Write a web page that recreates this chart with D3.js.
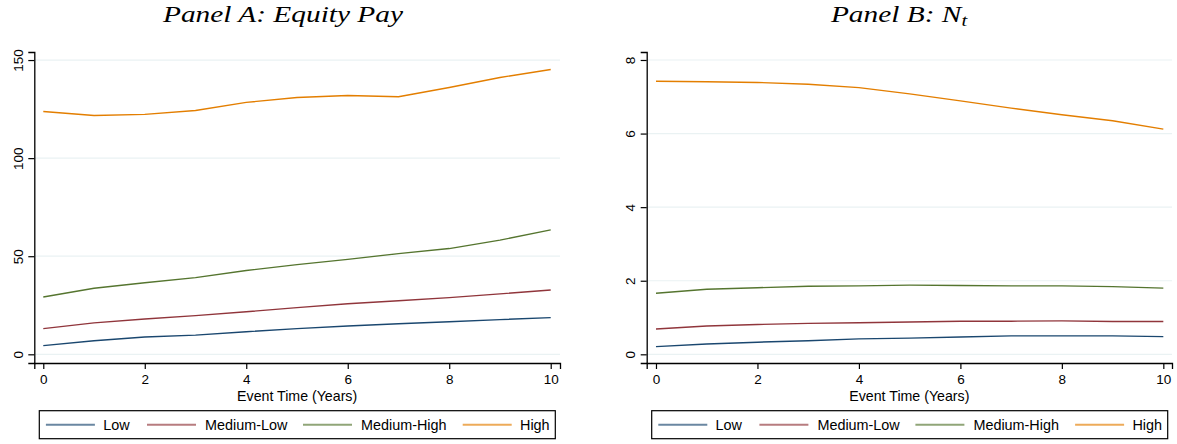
<!DOCTYPE html>
<html><head><meta charset="utf-8">
<script src="https://cdn.jsdelivr.net/npm/d3@7"></script>
<style>
html,body{margin:0;padding:0;background:#fff;}
svg{display:block;}
text{font-family:"Liberation Sans",Arial,sans-serif;fill:#000;}
.title{font-family:"Liberation Serif","Times New Roman",serif;font-style:italic;}
</style></head>
<body>
<svg id="chart" width="1177" height="444"></svg>
<script>
const years = [0,1,2,3,4,5,6,7,8,9,10];
const seriesNames = ["Low","Medium-Low","Medium-High","High"];
const seriesColors = ["#1a476f","#90353b","#55752f","#e37e00"];

// Panel A: Equity Pay
const equityLow = [4.4,6.9,8.8,9.8,11.5,13.1,14.4,15.6,16.6,17.7,18.7];
const equityMedLow = [13.1,16.0,18.0,19.7,21.7,23.8,25.8,27.3,28.9,30.8,32.8];
const equityMedHigh = [29.2,33.7,36.5,39.1,42.7,45.7,48.4,51.3,53.9,58.2,63.4];
const equityHigh = [123.8,121.7,122.3,124.3,128.4,130.9,131.9,131.3,136.0,141.1,145.2];
const equityTicks = [0,50,100,150];

// Panel B: N_t
const nLow = [0.21,0.28,0.33,0.37,0.42,0.44,0.47,0.50,0.50,0.50,0.48];
const nMedLow = [0.69,0.77,0.81,0.84,0.86,0.88,0.90,0.90,0.91,0.89,0.89];
const nMedHigh = [1.66,1.77,1.81,1.85,1.86,1.88,1.87,1.86,1.86,1.84,1.80];
const nHigh = [7.42,7.41,7.39,7.34,7.25,7.08,6.89,6.69,6.51,6.35,6.12];
const nTicks = [0,2,4,6,8];

const xTicks = [0,2,4,6,8,10];
const xTitle = "Event Time (Years)";

const svg = d3.select("#chart");

function panel(cfg){
  const g = svg.append("g");
  const x = d3.scaleLinear().domain(cfg.xDomain).range(cfg.xRange);
  const y = d3.scaleLinear().domain(cfg.yDomain).range(cfg.yRange);

  // gridlines
  g.append("g").selectAll("line").data(cfg.yTicks).join("line")
    .attr("x1", cfg.xRange[0]).attr("x2", cfg.xRange[1])
    .attr("y1", d=>y(d)).attr("y2", d=>y(d))
    .attr("stroke","#eaf2f3").attr("stroke-width",1.2);

  // lines
  const line = d3.line().x((d,i)=>x(years[i])).y(d=>y(d));
  cfg.series.forEach((s,k)=>{
    g.append("path").datum(s).attr("d",line)
      .attr("fill","none").attr("stroke",seriesColors[k]).attr("stroke-width",1.4)
      .attr("stroke-linejoin","round");
  });

  // y axis
  const ya = g.append("g").attr("transform",`translate(${cfg.xRange[0]},0)`)
    .call(d3.axisLeft(y).tickValues(cfg.yTicks).tickSizeOuter(0).tickSize(6).tickFormat(d3.format("d")));
  ya.select(".domain").attr("stroke","#000").attr("stroke-width",1.3);
  ya.selectAll(".tick line").attr("stroke","#000").attr("stroke-width",1.2);
  ya.selectAll(".tick text")
    .attr("font-family","Liberation Sans, Arial, sans-serif").attr("font-size",13.5)
    .attr("fill","#000")
    .attr("text-anchor","middle").attr("x",null).attr("dy",null)
    .attr("transform","translate(-11.6,0) rotate(-90)");

  // x axis
  const xa = g.append("g").attr("transform",`translate(0,${cfg.yRange[0]})`)
    .call(d3.axisBottom(x).tickValues(xTicks).tickSizeOuter(0).tickSize(6));
  xa.select(".domain").attr("stroke","#000").attr("stroke-width",1.3);
  xa.selectAll(".tick line").attr("stroke","#000").attr("stroke-width",1.2);
  xa.selectAll(".tick text")
    .attr("font-family","Liberation Sans, Arial, sans-serif").attr("font-size",13.5)
    .attr("fill","#000").attr("y",20.5).attr("dy",null);

  // x title
  g.append("text").attr("x",(cfg.xRange[0]+cfg.xRange[1])/2).attr("y",400.5)
    .attr("text-anchor","middle").attr("font-size",14.2).text(xTitle);

  // title
  const t = g.append("text").attr("class","title")
    .attr("transform",`translate(${cfg.titleX},21.5) scale(1.25,1)`)
    .attr("text-anchor","middle").attr("font-size",23.5);
  cfg.titleParts(t);

  // legend
  const lx = cfg.legendX;
  g.append("rect").attr("x",lx).attr("y",410.7).attr("width",516).attr("height",28)
    .attr("fill","#fff").attr("stroke","#000").attr("stroke-width",1.2);
  const itemOffsets = [[6.6,63.9],[107.7,165.7],[263.7,321.7],[423.4,480.7]];
  seriesNames.forEach((nm,k)=>{
    const [lo,to] = itemOffsets[k];
    g.append("line").attr("x1",lx+lo).attr("x2",lx+lo+49).attr("y1",424.7).attr("y2",424.7)
      .attr("stroke",seriesColors[k]).attr("stroke-width",2).attr("stroke-opacity",0.65);
    g.append("text").attr("x",lx+to).attr("y",429.8).attr("font-size",14.4).text(nm);
  });
}

panel({
  xDomain:[-0.177,10.183], xRange:[34.3,560],
  yDomain:[-4.43,154.1], yRange:[363,52],
  yTicks:equityTicks,
  series:[equityLow,equityMedLow,equityMedHigh,equityHigh],
  titleX:283, legendX:39.3,
  titleParts:t=>{ t.text("Panel A: Equity Pay"); }
});

panel({
  xDomain:[-0.183,10.171], xRange:[646.7,1172],
  yDomain:[-0.236,8.217], yRange:[363,52],
  yTicks:nTicks,
  series:[nLow,nMedLow,nMedHigh,nHigh],
  titleX:899, legendX:651.7,
  titleParts:t=>{
    t.append("tspan").text("Panel B: N");
    t.append("tspan").attr("font-size",16.5).attr("dy",4).text("t");
  }
});
</script>
</body></html>
